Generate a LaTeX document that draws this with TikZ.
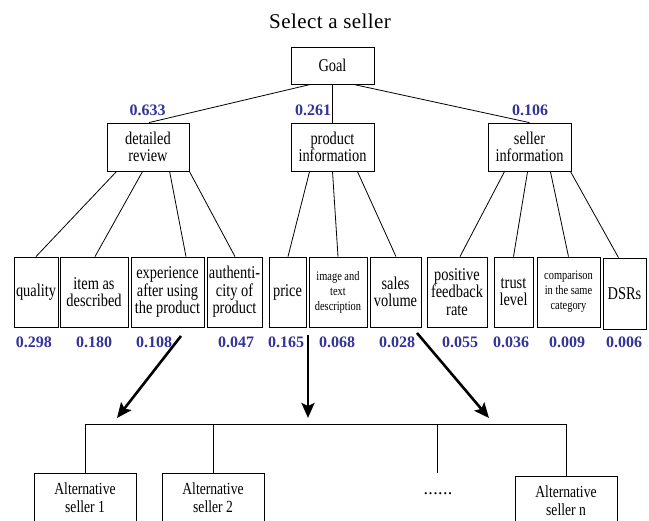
\documentclass[tikz,border=0pt]{standalone}
\usepackage{fontspec}
\setmainfont{Liberation Serif}[FakeStretch=0.8]
\newfontfamily\numfont{Liberation Serif}
\newfontfamily\titlefont{Liberation Serif}[LetterSpace=2]
\usetikzlibrary{calc,arrows.meta}
\definecolor{wblue}{RGB}{51,51,153}
\begin{document}
\begin{tikzpicture}[x=1pt,y=-1pt,
  box/.style={draw, line width=0.8pt, inner sep=0pt, align=center, font=\fontsize{18}{17.5}\selectfont},
  smallbox/.style={box, font=\fontsize{13}{15}\selectfont},
  altbox/.style={box, font=\fontsize{17}{18}\selectfont, minimum width=102pt, minimum height=50pt},
  wt/.style={text=wblue, font=\numfont\bfseries\fontsize{16}{16}\selectfont, inner sep=0pt},
  link/.style={line width=0.8pt},
  bigarrow/.style={line width=2.6pt, -{Stealth[length=15pt,width=13pt,inset=3pt]}}]
\useasboundingbox (0,0) rectangle (649,521);

\node[font=\titlefont\fontsize{21}{21}\selectfont] (title) at (330,21) {Select a seller};

\node[box, minimum width=83pt, minimum height=37pt] (goal) at (332.5,65.5) {Goal};
\node[box, minimum width=82pt, minimum height=48pt] (dr) at (148,147) {detailed\\review};
\node[box, minimum width=83pt, minimum height=48pt] (pi) at (332.5,147) {product\\information};
\node[box, minimum width=83pt, minimum height=48pt] (si) at (529.5,147) {seller\\information};

\node[wt] (w1) at (147.5,110) {0.633};
\node[wt] (w2) at (313,110) {0.261};
\node[wt] (w3) at (530,110) {0.106};

\draw[link] ($(goal.south west)+(20,0)$) -- ($(dr.north)+(1,0)$);
\draw[link] (goal.south) -- (pi.north);
\draw[link] ($(goal.south east)+(-21,0)$) -- (si.north);

% leaves
\node[box, minimum width=44pt, minimum height=70pt] (q) at (36,292) {quality};
\node[box, minimum width=68pt, minimum height=70pt] (iad) at (94,292) {item as\\described};
\node[box, minimum width=73pt, minimum height=70pt] (exp) at (167.5,292) {experience\\after using\\the product};
\node[box, minimum width=55pt, minimum height=70pt] (auth) at (234.5,292) {authenti-\\city of\\product};
\node[box, minimum width=37pt, minimum height=70pt] (price) at (287.5,292) {price};
\node[smallbox, minimum width=58pt, minimum height=70pt] (img) at (338,292) {image and\\text\\description};
\node[box, minimum width=51pt, minimum height=70pt] (sales) at (395.5,292) {sales\\volume};
\node[box, minimum width=60pt, minimum height=70pt] (pos) at (457,292) {positive\\feedback\\rate};
\node[box, minimum width=39pt, minimum height=70pt] (trust) at (513.5,292) {trust\\level};
\node[smallbox, minimum width=63pt, minimum height=70pt] (comp) at (568.5,292) {comparison\\in the same\\category};
\node[box, minimum width=43pt, minimum height=71pt] (dsr) at (624.5,293.5) {DSRs};

\draw[link] ($(dr.south west)+(10,0)$) -- (q.north);
\draw[link] ($(dr.south west)+(36,0)$) -- ($(iad.north)+(1,0)$);
\draw[link] ($(dr.south west)+(63,0)$) -- ($(exp.north)+(18.5,0)$);
\draw[link] (dr.south east) -- ($(auth.north)+(0.5,0)$);
\draw[link] ($(pi.south west)+(19,0)$) -- ($(price.north)+(0.5,0)$);
\draw[link] (pi.south) -- (img.north);
\draw[link] ($(pi.south east)+(-17,0)$) -- ($(sales.north)+(0.5,0)$);
\draw[link] ($(si.south west)+(17,0)$) -- ($(pos.north)+(3,0)$);
\draw[link] ($(si.south west)+(40,0)$) -- (trust.north);
\draw[link] ($(si.south east)+(-21,0)$) -- (comp.north);
\draw[link] ($(si.south east)+(-1,0)$) -- ($(dsr.north)+(-6,0)$);

\node[wt] (l1) at (34,342) {0.298};
\node[wt] (l2) at (94,342) {0.180};
\node[wt] (l3) at (154,342) {0.108};
\node[wt] (l4) at (236,342) {0.047};
\node[wt] (l5) at (286,342) {0.165};
\node[wt] (l6) at (337,342) {0.068};
\node[wt] (l7) at (397,342) {0.028};
\node[wt] (l8) at (460,342) {0.055};
\node[wt] (l9) at (511,342) {0.036};
\node[wt] (l10) at (567,342) {0.009};
\node[wt] (l11) at (624,342) {0.006};

% bottom
\coordinate (a1s) at (181,336); \coordinate (a1e) at (117,418);
\coordinate (a2s) at (308,335); \coordinate (a2e) at (308,418);
\coordinate (a3s) at (417,333); \coordinate (a3e) at (489,418);
\draw[bigarrow] (a1s) -- (a1e);
\draw[bigarrow] (a2s) -- (a2e);
\draw[bigarrow] (a3s) -- (a3e);

\node[altbox] (alt1) at (85,498) {Alternative\\seller 1};
\node[altbox] (alt2) at (213,498) {Alternative\\seller 2};
\node[altbox] (altn) at (566,501) {Alternative\\seller n};
\node[font=\titlefont\fontsize{18}{18}\selectfont, inner sep=0pt] (dots) at (438,494) {......};
\coordinate (bar) at (0,424);
\coordinate (dtop) at (437,473);

\draw[link] (alt1.north) -- (alt1.north |- bar) -- (altn.north |- bar) -- (altn.north);
\draw[link] (alt2.north) -- (alt2.north |- bar);
\draw[link] (dtop) -- (dtop |- bar);
\end{tikzpicture}
\end{document}
